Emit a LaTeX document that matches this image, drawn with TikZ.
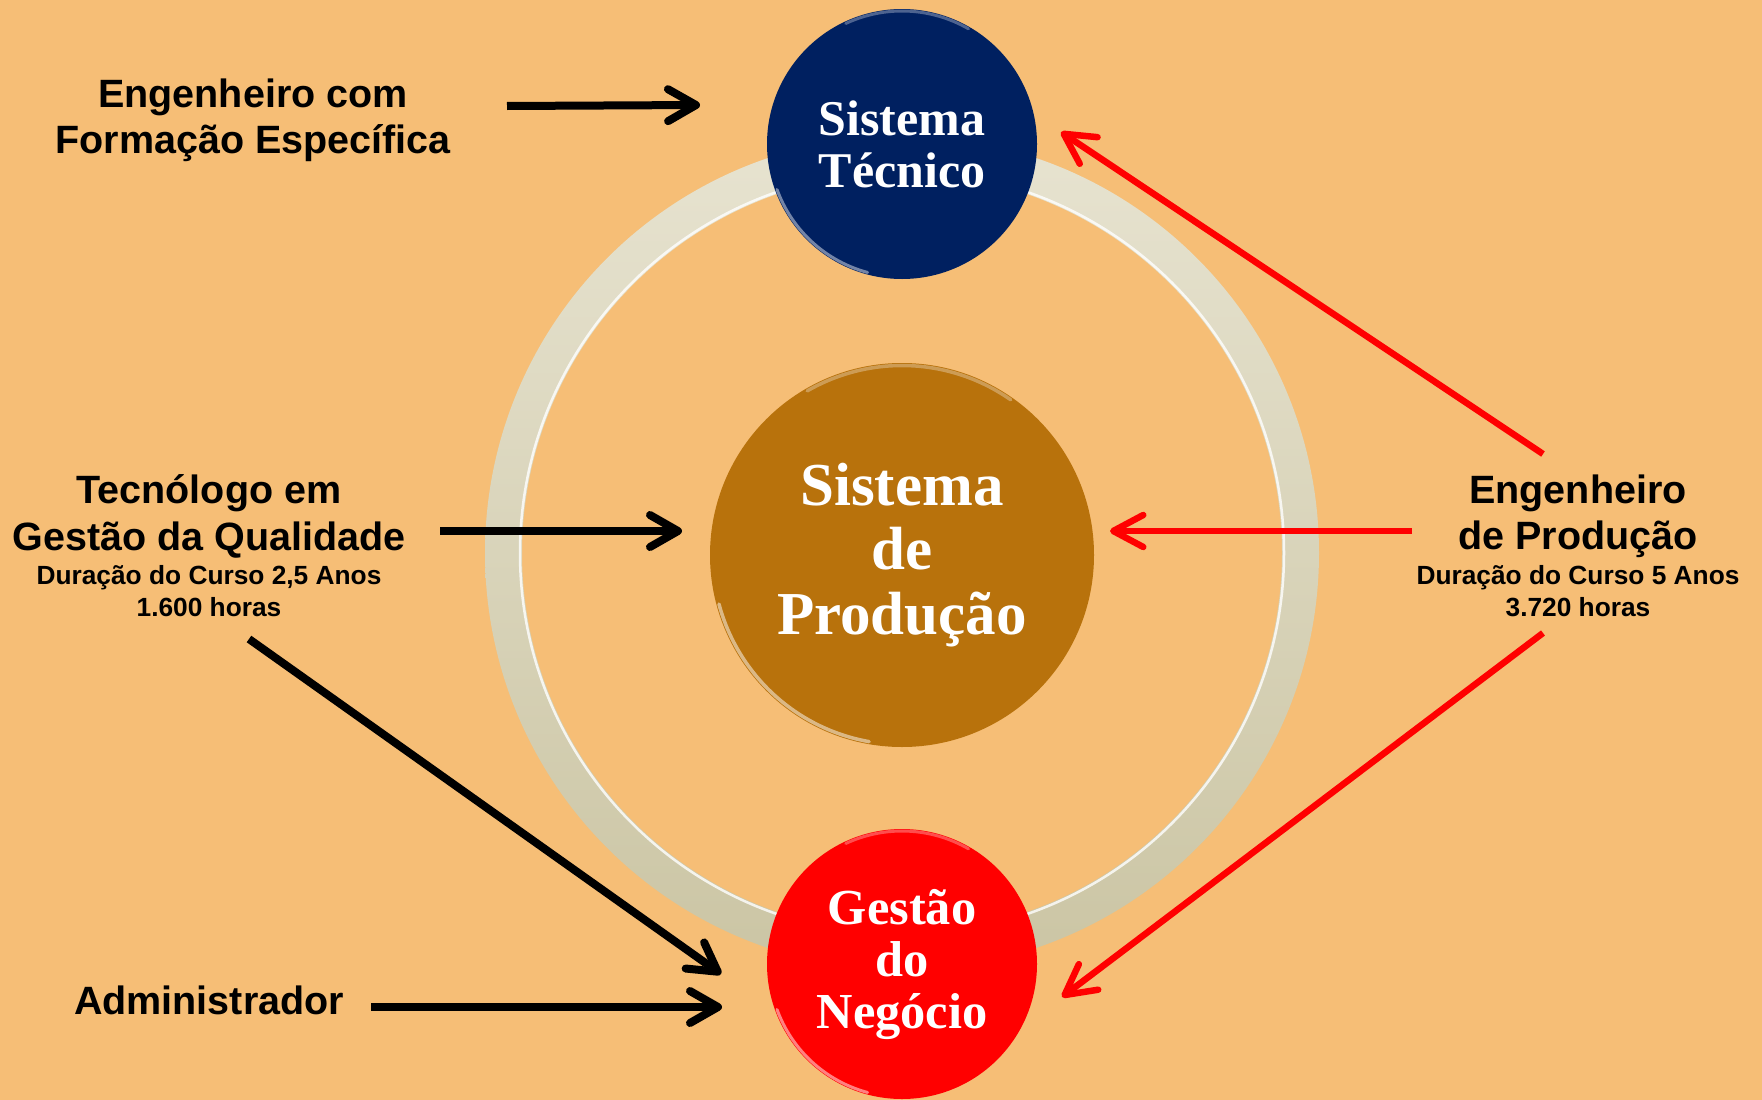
\documentclass[tikz,border=0pt]{standalone}
\usepackage{fontspec}
\setmainfont{Liberation Serif}
\setsansfont{Liberation Sans}
\usetikzlibrary{arrows.meta}
\definecolor{bg}{RGB}{246,190,118}
\definecolor{navy}{RGB}{0,32,96}
\definecolor{ochre}{RGB}{184,114,12}
\definecolor{ringlight}{RGB}{231,227,208}
\definecolor{ringdark}{RGB}{203,197,164}
\begin{document}
\begin{tikzpicture}[x=1pt,y=-1pt,
  lbl/.style={font=\sffamily\bfseries\fontsize{39.5}{47}\selectfont, anchor=base, inner sep=0pt},
  sub/.style={font=\sffamily\bfseries\fontsize{26.3}{32}\selectfont, anchor=base, inner sep=0pt},
  ball/.style={circle, inner sep=0pt, text=white, align=center},
  rim/.style={white, line width=3pt, line cap=round},
  blackarrow/.style={draw=black, line width=8pt, -{Straight Barb[length=28pt,width=32pt,round]}},
  redarrow/.style={draw=red, line width=6.5pt, -{Straight Barb[length=30pt,width=32pt,round]}}
]
\useasboundingbox (0,0) rectangle (1762,1100);
\fill[bg] (0,0) rectangle (1762,1100);

% ring
\shade[top color=ringlight, bottom color=ringdark, even odd rule]
  (902,553) circle[radius=417pt] (902,553) circle[radius=380pt];
\draw[white, opacity=0.8, line width=2.5pt] (902,553) circle[radius=382pt];

% circles
\node[ball, fill=navy, minimum size=270pt,
      font=\bfseries\fontsize{50}{52}\selectfont] (tec) at (902,144) {Sistema\\Técnico};
\node[ball, fill=ochre, minimum size=384pt,
      font=\bfseries\fontsize{61}{64.5}\selectfont] (prod) at (902,555) {Sistema\\de\\Produção};
\node[ball, fill=red, minimum size=270pt,
      font=\bfseries\fontsize{50.4}{52}\selectfont] (neg) at (902,964) {Gestão\\do\\Negócio};

% glossy rims
\draw[rim, opacity=0.45] (tec.center) ++(200:133pt) arc[start angle=200, end angle=255, radius=133pt];
\draw[rim, opacity=0.3] (tec.center) ++(60:133pt) arc[start angle=60, end angle=115, radius=133pt];
\draw[rim, opacity=0.5, line width=3.5pt] (prod.center) ++(195:189.5pt) arc[start angle=195, end angle=260, radius=189.5pt];
\draw[rim, opacity=0.3, line width=3.5pt] (prod.center) ++(55:189.5pt) arc[start angle=55, end angle=120, radius=189.5pt];
\draw[rim, opacity=0.5] (neg.center) ++(200:133pt) arc[start angle=200, end angle=255, radius=133pt];
\draw[rim, opacity=0.3] (neg.center) ++(60:133pt) arc[start angle=60, end angle=115, radius=133pt];

% texts
\node[lbl] (eng1) at (253,107) {Engenheiro com};
\node[lbl] (eng2) at (253,153) {Formação Específica};
\node[lbl] (tgq1) at (209,503) {Tecnólogo em};
\node[lbl] (tgq2) at (209,550) {Gestão da Qualidade};
\node[sub] (tgq3) at (209,584) {Duração do Curso 2,5 Anos};
\node[sub] (tgq4) at (209,616) {1.600 horas};
\node[lbl] (ep1) at (1578,503) {Engenheiro};
\node[lbl] (ep2) at (1578,549) {de Produção};
\node[sub] (ep3) at (1578,584) {Duração do Curso 5 Anos};
\node[sub] (ep4) at (1578,616) {3.720 horas};
\node[lbl] (adm) at (209,1014) {Administrador};

% arrow end points
\coordinate (a1s) at (507,106);  \coordinate (a1e) at (700,105);
\coordinate (a2s) at (440,531);  \coordinate (a2e) at (682,531);
\coordinate (a3s) at (249,639);  \coordinate (a3e) at (721,974);
\coordinate (a4s) at (371,1007); \coordinate (a4e) at (722,1007);
\coordinate (r1s) at (1543,454); \coordinate (r1e) at (1061,132);
\coordinate (r2s) at (1412,531); \coordinate (r2e) at (1110,531);
\coordinate (r3s) at (1543,633); \coordinate (r3e) at (1062,997);

\draw[blackarrow] (a1s) -- (a1e);
\draw[blackarrow] (a2s) -- (a2e);
\draw[blackarrow] (a3s) -- (a3e);
\draw[blackarrow] (a4s) -- (a4e);
\draw[redarrow] (r1s) -- (r1e);
\draw[redarrow] (r2s) -- (r2e);
\draw[redarrow] (r3s) -- (r3e);
\end{tikzpicture}
\end{document}
